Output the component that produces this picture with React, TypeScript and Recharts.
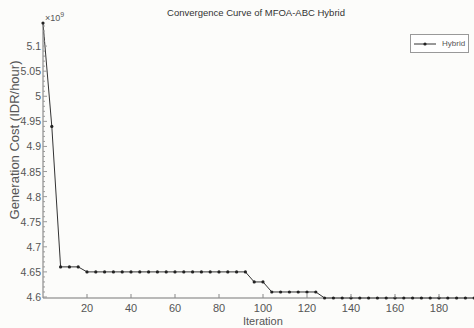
import React from 'react'
import { LineChart, Line, XAxis, YAxis } from 'recharts'

// iterations sampled every 4 (one marker each)
const iterations = [
    0, 4, 8, 12, 16, 20, 24, 28, 32, 36, 40, 44, 48, 52, 56, 60, 64, 68, 72, 76,
    80, 84, 88, 92, 96, 100, 104, 108, 112, 116, 120, 124, 128, 132, 136, 140,
    144, 148, 152, 156, 160, 164, 168, 172, 176, 180, 184, 188, 192, 196, 200,
]

// generation cost, in units of 1e9
const hybridCost = [
    5.146, 4.94, 4.66, 4.66, 4.66, 4.65, 4.65, 4.65, 4.65, 4.65, 4.65, 4.65, 4.65,
    4.65, 4.65, 4.65, 4.65, 4.65, 4.65, 4.65, 4.65, 4.65, 4.65, 4.65, 4.63, 4.63,
    4.61, 4.61, 4.61, 4.61, 4.61, 4.61, 4.598, 4.598, 4.598, 4.598, 4.598, 4.598,
    4.598, 4.598, 4.598, 4.598, 4.598, 4.598, 4.598, 4.598, 4.598, 4.598, 4.598,
    4.598, 4.598,
]

const xTicks = [20, 40, 60, 80, 100, 120, 140, 160, 180]

const yTicks = [
    4.6, 4.61, 4.62, 4.63, 4.64, 4.65, 4.66, 4.67, 4.68, 4.69, 4.7, 4.71, 4.72,
    4.73, 4.74, 4.75, 4.76, 4.77, 4.78, 4.79, 4.8, 4.81, 4.82, 4.83, 4.84, 4.85,
    4.86, 4.87, 4.88, 4.89, 4.9, 4.91, 4.92, 4.93, 4.94, 4.95, 4.96, 4.97, 4.98,
    4.99, 5, 5.01, 5.02, 5.03, 5.04, 5.05, 5.06, 5.07, 5.08, 5.09, 5.1, 5.11,
    5.12, 5.13, 5.14,
]

const data = iterations.map((it, i) => ({ iteration: it, hybrid: hybridCost[i] }))

const FONT = '"Liberation Sans", Arial, sans-serif'
const TEXT = '#555'

const isMajor = (v: number) => Math.abs(v * 20 - Math.round(v * 20)) < 1e-6

const XTick = (props: any) => {
    const { x, y, payload } = props
    return (
        <g>
            <line x1={x} y1={y} x2={x} y2={y - 4} stroke="#888" strokeWidth={1} />
            <text x={x} y={y + 14} textAnchor="middle" fill={TEXT} fontSize={11} fontFamily={FONT}>
                {payload.value}
            </text>
        </g>
    )
}

const YTick = (props: any) => {
    const { x, y, payload } = props
    const major = isMajor(payload.value)
    return (
        <g>
            <line x1={x} y1={y} x2={x + (major ? 4 : 2)} y2={y} stroke="#999" strokeWidth={1} />
            {major && (
                <text x={x - 2} y={y + 4} textAnchor="end" fill={TEXT} fontSize={10.5} fontFamily={FONT}>
                    {String(payload.value)}
                </text>
            )}
        </g>
    )
}

export default function App() {
    return (
        <div
            style={{
                position: 'absolute',
                left: 0,
                top: 0,
                width: 474,
                height: 328,
                overflow: 'hidden',
                background: '#fcfcfa',
                fontFamily: FONT,
            }}
        >
            <LineChart
                width={483}
                height={328}
                data={data}
                margin={{ top: 22, right: 0, bottom: 0, left: 0 }}
            >
                <XAxis
                    dataKey="iteration"
                    type="number"
                    domain={[0, 200]}
                    ticks={xTicks}
                    interval={0}
                    height={30}
                    tickSize={0}
                    tickMargin={0}
                    tick={<XTick />}
                    axisLine={{ stroke: '#777' }}
                />
                <YAxis
                    type="number"
                    domain={[4.598, 5.148]}
                    ticks={yTicks}
                    interval={0}
                    width={43}
                    tickSize={0}
                    tickMargin={0}
                    tick={<YTick />}
                    axisLine={{ stroke: '#777' }}
                />
                <Line
                    type="linear"
                    dataKey="hybrid"
                    stroke="#333"
                    strokeWidth={1}
                    dot={{ r: 1.6, fill: '#222', stroke: '#222', strokeWidth: 0 }}
                    isAnimationActive={false}
                />
            </LineChart>

            <div style={{ position: 'absolute', left: 0, top: 7, width: 512, textAlign: 'center', fontSize: 9.5, color: '#333' }}>
                Convergence Curve of MFOA-ABC Hybrid
            </div>

            <div style={{ position: 'absolute', left: 45, top: 11, fontSize: 9, color: TEXT }}>
                ×10<sup style={{ fontSize: 7 }}>9</sup>
            </div>

            <div
                style={{
                    position: 'absolute',
                    left: 14,
                    top: 140,
                    transform: 'translate(-50%, -50%) rotate(-90deg)',
                    whiteSpace: 'nowrap',
                    fontSize: 13,
                    color: TEXT,
                }}
            >
                Generation Cost (IDR/hour)
            </div>

            <div style={{ position: 'absolute', left: 243, top: 315, fontSize: 11, color: TEXT }}>
                Iteration
            </div>

            <div
                style={{
                    position: 'absolute',
                    left: 410,
                    top: 34,
                    width: 57,
                    height: 17,
                    border: '1px solid #999',
                    background: '#fff',
                    display: 'flex',
                    alignItems: 'center',
                    fontSize: 8,
                    color: TEXT,
                }}
            >
                <svg width={26} height={10} style={{ marginLeft: 3 }}>
                    <line x1={0} y1={5} x2={22} y2={5} stroke="#333" strokeWidth={1} />
                    <circle cx={11} cy={5} r={1.6} fill="#222" />
                </svg>
                <span style={{ marginLeft: 2 }}>Hybrid</span>
            </div>
        </div>
    )
}
